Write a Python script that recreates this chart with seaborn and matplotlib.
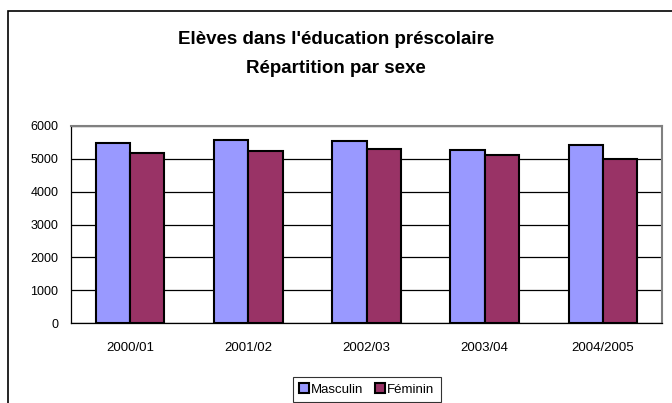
import pandas as pd
import matplotlib.pyplot as plt
import seaborn as sns
from matplotlib.patches import Rectangle, Patch

# data
years = ["2000/01", "2001/02", "2002/03", "2003/04", "2004/2005"]
masculin = [5490, 5575, 5555, 5260, 5410]
feminin = [5190, 5240, 5300, 5125, 5005]

df = pd.DataFrame({
    "annee": years * 2,
    "sexe": ["Masculin"] * len(years) + ["Féminin"] * len(years),
    "eleves": masculin + feminin,
})

sns.set_style("white")
plt.rcParams["font.family"] = ["Liberation Sans", "DejaVu Sans"]
plt.rcParams["text.color"] = "black"
plt.rcParams["xtick.color"] = "black"
plt.rcParams["ytick.color"] = "black"

fig = plt.figure(figsize=(6.72, 4.03), dpi=100)
ax = fig.add_axes([71 / 672, 80 / 403, 591 / 672, 197 / 403])

colors = {"Masculin": "#9999FF", "Féminin": "#993366"}
sns.barplot(data=df, x="annee", y="eleves", hue="sexe", palette=colors,
            saturation=1, width=0.58, gap=0, edgecolor="black", linewidth=1.5,
            ax=ax, legend=False, zorder=3)

ax.set_ylim(0, 6000)
ax.set_xlim(-0.5, len(years) - 0.5)
ax.set_yticks(range(0, 7000, 1000))
ax.set_xlabel("")
ax.set_ylabel("")
ax.yaxis.grid(True, color="black", linewidth=0.9)
ax.set_axisbelow(True)

# ticks between categories, labels at centers
ax.set_xticks([i - 0.5 for i in range(len(years) + 1)], minor=True)
ax.tick_params(axis="x", which="major", length=0, labelsize=9.5, pad=14)
ax.tick_params(axis="x", which="minor", length=4, width=0.8, color="black", direction="out")
ax.tick_params(axis="y", length=4, width=0.8, color="black", direction="out", labelsize=9, pad=5)

for side in ["top", "right"]:
    ax.spines[side].set_color("#808080")
    ax.spines[side].set_linewidth(1.5)
for side in ["left", "bottom"]:
    ax.spines[side].set_color("black")
    ax.spines[side].set_linewidth(0.9)
    ax.spines[side].set_visible(True)

fig.text(0.5, 1 - 54 / 403, "Elèves dans l'éducation préscolaire\nRépartition par sexe",
         ha="center", va="center", fontsize=13.5, fontweight="bold", linespacing=1.85)

# chart area border (cut off at right and bottom)
fig.patches.append(Rectangle((8 / 672, -0.1), 1.0, 1 - 11 / 403 + 0.1,
                             transform=fig.transFigure, fill=False,
                             edgecolor="black", linewidth=1.2))

handles = [Patch(facecolor=colors[k], edgecolor="black", linewidth=1.5, label=k)
           for k in ["Masculin", "Féminin"]]
leg = fig.legend(handles=handles, loc="center", bbox_to_anchor=(367 / 672, 1 - 389.5 / 403),
                 ncol=2, fontsize=9.5, frameon=True, fancybox=False, handlelength=0.7,
                 handleheight=0.7, handletextpad=0.2, columnspacing=0.9,
                 borderpad=0.45, borderaxespad=0)
leg.get_frame().set_edgecolor("black")
leg.get_frame().set_linewidth(0.8)

plt.savefig("out.png", dpi=100)
